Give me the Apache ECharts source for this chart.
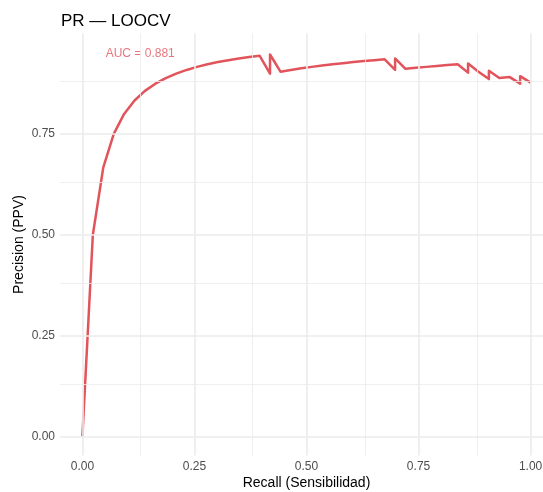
<!DOCTYPE html>
<html>
<head>
<meta charset="utf-8">
<script src="https://cdn.jsdelivr.net/npm/echarts@6/dist/echarts.min.js"></script>
<style>html,body{margin:0;padding:0;background:#fff}#c{width:543px;height:492px}</style>
</head>
<body>
<div id="c"></div>
<script>
// Recall (x) and precision (y) of the PR curve vertices
const recall = [
  0, 0.0233, 0.0465, 0.0698, 0.0930, 0.1163, 0.1395, 0.1628, 0.1860, 0.2093,
  0.2326, 0.2558, 0.2791, 0.3023, 0.3256, 0.3488, 0.3721, 0.3953,
  0.4186, 0.4186, 0.4419, 0.4651, 0.4884, 0.5116, 0.5349, 0.5581, 0.5814,
  0.6047, 0.6279, 0.6512, 0.6744, 0.6977, 0.6977, 0.7209, 0.7442, 0.7674,
  0.7907, 0.8140, 0.8372, 0.8605, 0.8605, 0.8837, 0.9070, 0.9070, 0.9302,
  0.9535, 0.9767, 0.9767, 1.0
];
const precision = [
  0, 0.5, 0.6667, 0.75, 0.8, 0.8333, 0.8571, 0.875, 0.8889, 0.9,
  0.9091, 0.9167, 0.9231, 0.9286, 0.9333, 0.9375, 0.9412, 0.9444,
  0.9, 0.9474, 0.9048, 0.9091, 0.9130, 0.9167, 0.92, 0.9231, 0.9259,
  0.9286, 0.9310, 0.9333, 0.9355, 0.9091, 0.9375, 0.9118, 0.9143, 0.9167,
  0.9189, 0.9211, 0.9231, 0.9024, 0.925, 0.9048, 0.8864, 0.9070, 0.8889,
  0.8913, 0.875, 0.8936, 0.8776
];
const xTicks = [0, 0.25, 0.5, 0.75, 1];
const yTicks = [0, 0.25, 0.5, 0.75];
const xMinor = [0.125, 0.375, 0.625, 0.875];
const yMinor = [0.125, 0.375, 0.625, 0.875];
const titleText = 'PR \u2014 LOOCV';
const xName = 'Recall (Sensibilidad)';
const yName = 'Precision (PPV)';
const annText = 'AUC = 0.881';
const annPos = [0.129, 0.949];

const FONT = '"Liberation Sans", Arial, Helvetica, sans-serif';
const RED = '#E2545B';
const GRID = '#EBEBEB';

const gridLines = [];
xTicks.forEach(v => gridLines.push({xAxis: v, lineStyle: {color: GRID, width: 1.6, type: 'solid'}}));
xMinor.forEach(v => gridLines.push({xAxis: v, lineStyle: {color: GRID, width: 0.8, type: 'solid'}}));
yTicks.forEach(v => gridLines.push({yAxis: v, lineStyle: {color: GRID, width: 1.6, type: 'solid'}}));
yMinor.forEach(v => gridLines.push({yAxis: v, lineStyle: {color: GRID, width: 0.8, type: 'solid'}}));

const chart = echarts.init(document.getElementById('c'), null, {renderer: 'canvas'});
chart.setOption({
  animation: false,
  backgroundColor: '#ffffff',
  textStyle: {fontFamily: FONT},
  title: {
    text: titleText, left: 56, top: 8,
    textStyle: {fontFamily: FONT, fontSize: 17, fontWeight: 'normal', color: '#000000'}
  },
  grid: {left: 60, top: 33.5, width: 493, height: 422, containLabel: false, outerBoundsMode: 'none'},
  xAxis: {
    type: 'value', min: -0.05, max: 1.05,
    name: xName, nameLocation: 'middle', nameGap: 21, nameMoveOverlap: false,
    nameTextStyle: {fontFamily: FONT, fontSize: 14, color: '#000000'},
    axisLine: {show: false}, axisTick: {show: false}, splitLine: {show: false},
    axisLabel: {customValues: xTicks, formatter: v => v.toFixed(2), margin: 5,
      fontFamily: FONT, fontSize: 12, color: '#4D4D4D'}
  },
  yAxis: {
    type: 'value', min: -0.0476, max: 0.9995,
    name: yName, nameLocation: 'middle', nameGap: 33.5, nameRotate: 90, nameMoveOverlap: false,
    nameTextStyle: {fontFamily: FONT, fontSize: 14, color: '#000000'},
    axisLine: {show: false}, axisTick: {show: false}, splitLine: {show: false},
    axisLabel: {customValues: yTicks, formatter: v => v.toFixed(2), margin: 5,
      fontFamily: FONT, fontSize: 12, color: '#4D4D4D'}
  },
  series: [
    {
      type: 'line', data: [], z: 0, silent: true,
      markLine: {silent: true, symbol: ['none', 'none'], label: {show: false}, animation: false, data: gridLines}
    },
    {
      type: 'line', z: 3,
      data: recall.map((r, i) => [r, precision[i]]),
      showSymbol: false, symbol: 'none',
      lineStyle: {color: RED, width: 2.5, join: 'round'},
      clip: false
    },
    {
      type: 'scatter', z: 4, symbolSize: 0, silent: true,
      data: [annPos],
      label: {show: true, position: 'inside', formatter: annText,
        fontFamily: FONT, fontSize: 12, color: RED}
    }
  ]
});
</script>
</body>
</html>
